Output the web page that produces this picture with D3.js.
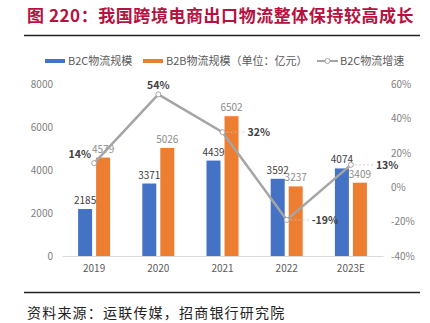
<!DOCTYPE html>
<html>
<head>
<meta charset="utf-8">
<script src="https://cdn.jsdelivr.net/npm/d3@7"></script>
<style>
  body { margin: 0; background: #fff; }
  text { font-family: "Noto Sans CJK SC", "Noto Sans", sans-serif; }
</style>
</head>
<body>
<script>
//chart data
var years = ["2019", "2020", "2021", "2022", "2023E"];
var b2cScale = [2185, 3371, 4439, 3592, 4074];
var b2bScale = [4579, 5026, 6502, 3237, 3409];
var b2cGrowth = [14, 54, 32, -19, 13];
var leftTicks = [0, 2000, 4000, 6000, 8000];
var rightTicks = [-40, -20, 0, 20, 40, 60];

var width = 430, height = 323;
var svg = d3.select("body").append("svg")
    .attr("width", width)
    .attr("height", height);

//title and rules
svg.append("text")
    .attr("x", 27).attr("y", 22)
    .attr("font-size", 17).attr("font-weight", "bold")
    .attr("letter-spacing", 0.55)
    .attr("fill", "#B5123F")
    .text("图 220：我国跨境电商出口物流整体保持较高成长");
svg.append("line").attr("x1", 24).attr("x2", 420).attr("y1", 35.5).attr("y2", 35.5)
    .attr("stroke", "#222").attr("stroke-width", 1.5);
svg.append("line").attr("x1", 24).attr("x2", 420).attr("y1", 292.5).attr("y2", 292.5)
    .attr("stroke", "#222").attr("stroke-width", 1.5);
svg.append("text")
    .attr("x", 27).attr("y", 318)
    .attr("font-size", 14).attr("letter-spacing", 1.2).attr("fill", "#222")
    .text("资料来源：运联传媒，招商银行研究院");

//scales
var x = d3.scaleBand().domain(years).range([62, 383]);
var yL = d3.scaleLinear().domain([0, 8000]).range([256, 84]);
var yR = d3.scaleLinear().domain([-40, 60]).range([256, 84]);
var barW = 14, gap = 4;

//axes
var leftAxis = svg.append("g").attr("transform", "translate(53,0)")
    .call(d3.axisLeft(yL).tickValues(leftTicks).tickSize(0).tickPadding(0)
        .tickFormat(d3.format("d")));
var rightAxis = svg.append("g").attr("transform", "translate(391,0)")
    .call(d3.axisRight(yR).tickValues(rightTicks).tickSize(0).tickPadding(0)
        .tickFormat(function(d){ return d + "%"; }));
var bottomAxis = svg.append("g").attr("transform", "translate(0,256)")
    .call(d3.axisBottom(x).tickSize(0).tickPadding(9));
[leftAxis, rightAxis].forEach(function(g){
    g.select(".domain").remove();
    g.selectAll("text").attr("font-size", 10).attr("fill", "#808080")
        .attr("font-family", "Liberation Sans, sans-serif");
});
bottomAxis.select(".domain").attr("stroke", "#D9D9D9");
bottomAxis.selectAll("text").attr("font-size", 10).attr("fill", "#595959")
    .attr("font-family", "Liberation Sans, sans-serif");

//bars
var cx = function(d){ return x(d) + x.bandwidth() / 2; };
svg.selectAll(".b2c").data(years).enter().append("rect")
    .attr("x", function(d){ return cx(d) - gap / 2 - barW; })
    .attr("y", function(d, i){ return yL(b2cScale[i]); })
    .attr("width", barW)
    .attr("height", function(d, i){ return 256 - yL(b2cScale[i]); })
    .attr("fill", "#4472C4");
svg.selectAll(".b2b").data(years).enter().append("rect")
    .attr("x", function(d){ return cx(d) + gap / 2; })
    .attr("y", function(d, i){ return yL(b2bScale[i]); })
    .attr("width", barW)
    .attr("height", function(d, i){ return 256 - yL(b2bScale[i]); })
    .attr("fill", "#ED7D31");

//bar labels
svg.selectAll(".l2c").data(years).enter().append("text")
    .attr("x", function(d){ return cx(d) - gap / 2 - barW / 2; })
    .attr("y", function(d, i){ return yL(b2cScale[i]) - 5; })
    .attr("text-anchor", "middle").attr("font-size", 10).attr("fill", "#404040")
    .attr("font-family", "Liberation Sans, sans-serif")
    .text(function(d, i){ return b2cScale[i]; });
svg.selectAll(".l2b").data(years).enter().append("text")
    .attr("x", function(d){ return cx(d) + gap / 2 + barW / 2; })
    .attr("y", function(d, i){ return yL(b2bScale[i]) - 5; })
    .attr("text-anchor", "middle").attr("font-size", 10).attr("fill", "#8C8C8C")
    .attr("font-family", "Liberation Sans, sans-serif")
    .text(function(d, i){ return b2bScale[i]; });

//growth line
var line = d3.line()
    .x(function(d, i){ return cx(years[i]); })
    .y(function(d){ return yR(d); });
svg.append("path").datum(b2cGrowth)
    .attr("d", line).attr("fill", "none")
    .attr("stroke", "#A5A5A5").attr("stroke-width", 2.5);

//leader lines for right side labels
var rightLabeled = [2, 3, 4];
svg.selectAll(".lead").data(rightLabeled).enter().append("line")
    .attr("x1", function(i){ return cx(years[i]); })
    .attr("x2", function(i){ return cx(years[i]) + 24; })
    .attr("y1", function(i){ return yR(b2cGrowth[i]); })
    .attr("y2", function(i){ return yR(b2cGrowth[i]); })
    .attr("stroke", "#BFBFBF").attr("stroke-width", 0.8).attr("stroke-dasharray", "2,2");

svg.selectAll(".pt").data(b2cGrowth).enter().append("circle")
    .attr("cx", function(d, i){ return cx(years[i]); })
    .attr("cy", function(d){ return yR(d); })
    .attr("r", 2.5).attr("fill", "#fff")
    .attr("stroke", "#A5A5A5").attr("stroke-width", 1);

//growth labels
svg.selectAll(".gl").data(b2cGrowth).enter().append("text")
    .attr("x", function(d, i){
        var px = cx(years[i]);
        if (i === 0) return px - 3;
        if (i === 1) return px;
        return px + 25;
    })
    .attr("y", function(d, i){
        var py = yR(d);
        if (i === 0) return py - 5;
        if (i === 1) return py - 5;
        return py + 4;
    })
    .attr("text-anchor", function(d, i){ return i === 0 ? "end" : (i === 1 ? "middle" : "start"); })
    .attr("font-size", 10.5).attr("font-weight", "bold").attr("fill", "#404040")
    .attr("font-family", "Liberation Sans, sans-serif")
    .text(function(d){ return d + "%"; });

//legend
var lg = svg.append("g").attr("font-size", 11).attr("fill", "#595959");
lg.append("rect").attr("x", 45).attr("y", 59).attr("width", 20).attr("height", 4).attr("fill", "#4472C4");
lg.append("text").attr("x", 68).attr("y", 65).text("B2C物流规模");
lg.append("rect").attr("x", 143).attr("y", 59).attr("width", 20).attr("height", 4).attr("fill", "#ED7D31");
lg.append("text").attr("x", 166).attr("y", 65).text("B2B物流规模（单位：亿元）");
lg.append("line").attr("x1", 317).attr("x2", 338).attr("y1", 61).attr("y2", 61)
    .attr("stroke", "#A5A5A5").attr("stroke-width", 2);
lg.append("circle").attr("cx", 327.5).attr("cy", 61).attr("r", 2.5)
    .attr("fill", "#fff").attr("stroke", "#A5A5A5");
lg.append("text").attr("x", 340).attr("y", 65).text("B2C物流增速");
</script>
</body>
</html>
